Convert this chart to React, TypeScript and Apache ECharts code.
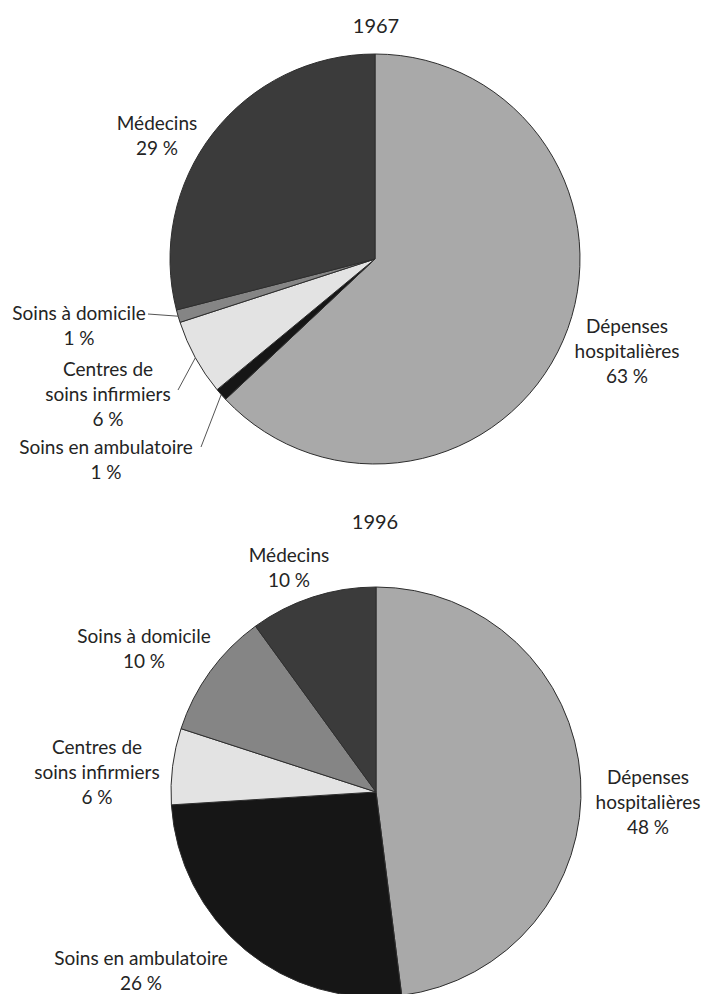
import React, { useEffect, useRef } from 'react';
import * as echarts from 'echarts';

const categories = ['Dépenses hospitalières', 'Soins en ambulatoire', 'Centres de soins infirmiers', 'Soins à domicile', 'Médecins'];
const labelTexts = ['Dépenses\nhospitalières', 'Soins en ambulatoire', 'Centres de\nsoins infirmiers', 'Soins à domicile', 'Médecins'];
const years = ['1967', '1996'];
const values1967 = [63, 1, 6, 1, 29];
const values1996 = [48, 26, 6, 10, 10];
const sliceColors = ['#a9a9a9', '#161616', '#e3e3e3', '#858585', '#3b3b3b'];

// layout (label centres, pie centres)
const pieCenters = [[375, 259], [376, 792]];
const pieRadius = 205;
const titlePos = [[376, 25], [375, 521]];
const labelPos = [
  [[627, 350], [106, 459], [108, 393], [79, 325], [157, 135]],
  [[648, 801], [141, 970], [97, 771], [144, 648], [289, 567]],
];
// leader line label-side ends for the 1967 small slices (dataIndex -> point)
const leaderEnds1967: Record<number, number[]> = { 1: [201, 447], 2: [178, 390], 3: [148, 314] };

const FONT = 'Lato, "Open Sans", sans-serif';
const TEXT_COLOR = '#242424';

function arcMidPoint(values: number[], idx: number, cx: number, cy: number, r: number) {
  const total = values.reduce((a, b) => a + b, 0);
  let cum = 0;
  for (let i = 0; i < idx; i++) cum += values[i];
  cum += values[idx] / 2;
  const a = (cum / total) * Math.PI * 2;
  return [cx + r * Math.sin(a), cy - r * Math.cos(a)];
}

export default function App() {
  const ref = useRef<HTMLDivElement>(null);
  useEffect(() => {
    document.body.style.margin = '0';
    const chart = echarts.init(ref.current!, undefined, { renderer: 'svg' });
    const allValues = [values1967, values1996];
    const series = allValues.map((vals, si) => ({
      type: 'pie',
      center: pieCenters[si],
      radius: pieRadius,
      startAngle: 90,
      clockwise: true,
      silent: true,
      avoidLabelOverlap: false,
      emphasis: { disabled: true },
      itemStyle: { borderColor: '#2e2e2e', borderWidth: 1 },
      label: {
        show: true,
        position: 'outside',
        fontFamily: FONT,
        fontSize: 19,
        lineHeight: 25,
        color: TEXT_COLOR,
        align: 'center',
        formatter: (p: any) => labelTexts[p.dataIndex] + '\n' + p.value + ' %',
      },
      labelLine: { show: false },
      labelLayout: (p: any) => {
        const pos = labelPos[si][p.dataIndex];
        return { x: pos[0], y: pos[1], align: 'center', verticalAlign: 'middle' };
      },
      data: vals.map((v, i) => ({ name: categories[i], value: v, itemStyle: { color: sliceColors[i] } })),
    }));

    const graphics: any[] = years.map((y, i) => ({
      type: 'text',
      x: titlePos[i][0],
      y: titlePos[i][1],
      style: { text: y, font: `20px ${FONT}`, fill: TEXT_COLOR, align: 'center', verticalAlign: 'middle' },
    }));
    Object.keys(leaderEnds1967).forEach((k) => {
      const idx = Number(k);
      const start = arcMidPoint(values1967, idx, pieCenters[0][0], pieCenters[0][1], pieRadius);
      const end = leaderEnds1967[idx];
      graphics.push({
        type: 'line',
        shape: { x1: start[0], y1: start[1], x2: end[0], y2: end[1] },
        style: { stroke: '#555', lineWidth: 1 },
      });
    });

    chart.setOption({
      animation: false,
      backgroundColor: '#ffffff',
      series,
      graphic: graphics,
    });
    return () => chart.dispose();
  }, []);
  return <div ref={ref} style={{ width: 706, height: 994 }} />;
}
